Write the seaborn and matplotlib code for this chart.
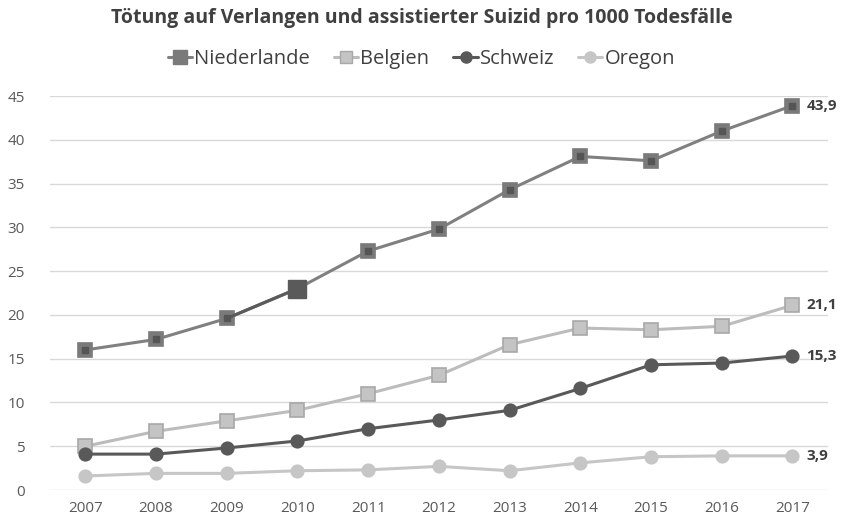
import numpy as np
import pandas as pd
import matplotlib
matplotlib.use("Agg")
import matplotlib.pyplot as plt
from matplotlib.lines import Line2D
import seaborn as sns

years = [2007, 2008, 2009, 2010, 2011, 2012, 2013, 2014, 2015, 2016, 2017]
niederlande = [16.0, 17.2, 19.6, 23.0, 27.3, 29.8, 34.3, 38.1, 37.6, 41.0, 43.9]
belgien = [5.0, 6.7, 7.9, 9.1, 11.0, 13.1, 16.6, 18.5, 18.3, 18.7, 21.1]
schweiz = [4.1, 4.1, 4.8, 5.6, 7.0, 8.0, 9.1, 11.6, 14.3, 14.5, 15.3]
oregon = [1.6, 1.9, 1.9, 2.2, 2.3, 2.7, 2.2, 3.1, 3.8, 3.9, 3.9]
end_labels = ["43,9", "21,1", "15,3", "3,9"]

sns.set_style("white")
plt.rcParams["font.family"] = ["Open Sans", "DejaVu Sans"]

fig = plt.figure(figsize=(8.43, 5.27), dpi=100)
ax = fig.add_axes([0.0593, 0.0702, 0.9227, 0.7476])

x = np.arange(len(years))
series = [
    ("Niederlande", niederlande, "#808080", "s", 10.5, "#7a7a7a"),
    ("Belgien", belgien, "#bcbcbc", "s", 9.5, "#c4c4c4"),
    ("Schweiz", schweiz, "#595959", "o", 9, "#595959"),
    ("Oregon", oregon, "#c6c6c6", "o", 9, "#c6c6c6"),
]

handles = []
for name, vals, col, mk, ms, face in series:
    edge = "#a8a8a8" if name == "Belgien" else face
    sns.lineplot(x=x, y=vals, ax=ax, color=col, linewidth=2.2, marker=mk,
                 markersize=ms, markerfacecolor=face, markeredgecolor=edge,
                 markeredgewidth=1.2, zorder=3)
    handles.append(Line2D([0], [0], color=col, linewidth=2.2, marker=mk,
                          markersize=ms - 1, markerfacecolor=face,
                          markeredgecolor=edge))

# dark inner dots of the Niederlande markers, 2010 highlighted
ax.plot(x[2:4], niederlande[2:4], color="#5a5a5a", linewidth=2.2, zorder=3)
ax.plot(x, niederlande, linestyle="none", marker="s", markersize=4.5,
        color="#555555", zorder=4)
ax.plot(x[3], niederlande[3], linestyle="none", marker="s", markersize=12.5,
        color="#5a5a5a", zorder=5)

last = [niederlande[-1], belgien[-1], schweiz[-1], oregon[-1]]
for val, lab in zip(last, end_labels):
    ax.annotate(lab, (x[-1], val), xytext=(10, 0), textcoords="offset points",
                va="center", ha="left", fontsize=11, fontweight="bold",
                color="#404040")

ax.set_xlim(-0.5, len(years) - 0.5)
ax.set_ylim(0, 45)
ax.set_yticks(range(0, 46, 5))
ax.set_xticks(x)
ax.set_xticklabels([str(y) for y in years])
ax.grid(axis="y", color="#d9d9d9", linewidth=1)
ax.set_axisbelow(True)
ax.tick_params(axis="both", length=0, labelsize=11, labelcolor="#595959")
ax.tick_params(axis="y", pad=18)
ax.tick_params(axis="x", pad=8)
sns.despine(ax=ax, left=True, bottom=True, top=True, right=True)

fig.text(0.5, 0.965, "Tötung auf Verlangen und assistierter Suizid pro 1000 Todesfälle",
         ha="center", va="center", fontsize=14, fontweight="bold", color="#404040")
fig.legend(handles, [s[0] for s in series], loc="center", bbox_to_anchor=(0.5, 0.888),
           ncol=4, frameon=False, fontsize=14.5, handlelength=1.2, handletextpad=0.1,
           columnspacing=1.2, labelcolor="#404040")

fig.savefig("out.png", dpi=100)
